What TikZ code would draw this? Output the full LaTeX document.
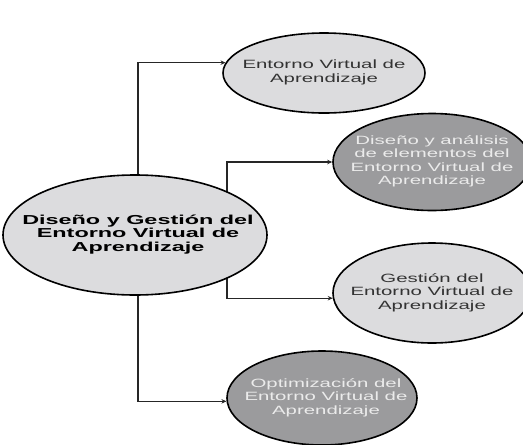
\documentclass[tikz,border=0pt]{standalone}
\usepackage{fontspec}
\setmainfont{Liberation Sans}[FakeStretch=1.7]
\newfontfamily\mainbold{Liberation Sans}[FakeStretch=1.8]
\usetikzlibrary{shapes.geometric,arrows.meta,backgrounds}
\definecolor{lightfill}{HTML}{DCDCDE}
\definecolor{darkfill}{HTML}{9B9B9D}
\newcommand{\ctext}[1]{\makebox[0pt]{\begin{tabular}{@{}c@{}}#1\end{tabular}}}
\begin{document}
\begin{tikzpicture}[x=1pt,y=-1pt,
  bub/.style={ellipse, draw=black, line width=1.6pt, inner sep=0pt,
    font=\fontsize{12}{13.5}\selectfont},
  lightbub/.style={bub, fill=lightfill, text=black!80},
  darkbub/.style={bub, fill=darkfill, text=white!92!black},
  arr/.style={-{Stealth[length=5pt,width=4.5pt]}, line width=1.1pt, draw=black!85}]
\useasboundingbox (0,0) rectangle (523,445);
\node[lightbub, minimum width=264pt, minimum height=120pt, text=black,
  font=\mainbold\bfseries\fontsize{13}{13}\selectfont] (main) at (135,235)
  {\ctext{\hspace*{6pt}Diseño y Gestión del\\\hspace*{6pt}Entorno Virtual de\\\hspace*{6pt}Aprendizaje}};
\node[lightbub, minimum width=202pt, minimum height=80pt] (e1) at (324,73)
  {\raisebox{5pt}{\ctext{Entorno Virtual de\\Aprendizaje}}};
\node[darkbub, minimum width=198pt, minimum height=97pt] (e2) at (432,162)
  {\ctext{Diseño y análisis\\de elementos del\\Entorno Virtual de\\Aprendizaje}};
\node[lightbub, minimum width=198pt, minimum height=100pt] (e3) at (432,293)
  {\raisebox{-2pt}{\ctext{Gestión del\\Entorno Virtual de\\Aprendizaje}}};
\node[darkbub, minimum width=190pt, minimum height=94pt] (e4) at (322,398)
  {\raisebox{-3pt}{\ctext{\hspace*{8pt}Optimización del\\\hspace*{8pt}Entorno Virtual de\\\hspace*{8pt}Aprendizaje}}};
\coordinate (t1) at (138,0);
\coordinate (t2) at (227,0);
\begin{scope}[on background layer]
\draw[arr] (main.center -| t1) |- (e1.174);
\draw[arr] (main.center -| t2) |- (e2.west);
\draw[arr] (main.center -| t2) |- (e3.183);
\draw[arr] (main.center -| t1) |- (e4.182);
\end{scope}
\end{tikzpicture}
\end{document}
